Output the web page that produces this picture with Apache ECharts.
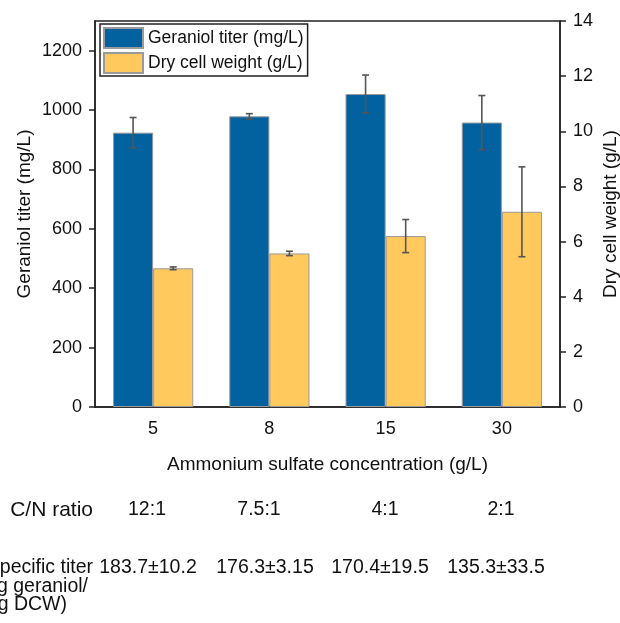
<!DOCTYPE html>
<html>
<head>
<meta charset="utf-8">
<script src="https://cdn.jsdelivr.net/npm/echarts@6/dist/echarts.min.js"></script>
<style>
  html, body { margin: 0; padding: 0; background: #fff; }
  #geraniol-chart { width: 620px; height: 623px; }
</style>
</head>
<body>
<div id="geraniol-chart"></div>
<script>
// ammonium sulfate concentration (g/L)
var concentrations = ["5", "8", "15", "30"];
var geraniolTiter = [924, 979, 1054, 958];
var geraniolErr = [51, 9, 64, 91];
var dryCellWeight = [5.03, 5.57, 6.2, 7.08];
var dryCellErr = [0.05, 0.08, 0.6, 1.63];
var leftTicks = [0, 200, 400, 600, 800, 1000, 1200];
var cnRatio = ["12:1", "7.5:1", "4:1", "2:1"];
var specificTiter = ["183.7±10.2", "176.3±3.15", "170.4±19.5", "135.3±33.5"];

var font = "Liberation Sans, Arial, sans-serif";
var blue = "#02619f";
var yellow = "#ffc95e";

function errData(vals, errs) {
  var out = [];
  for (var i = 0; i < vals.length; i++) {
    out.push([i, vals[i] - errs[i], vals[i] + errs[i]]);
  }
  return out;
}

// bars are 34.5% of the band each, gap 0 -> centre offset is +-17.25%
function errRender(side) {
  return function (params, api) {
    var x = api.value(0);
    var lo = api.coord([x, api.value(1)]);
    var hi = api.coord([x, api.value(2)]);
    var band = api.size([1, 0])[0];
    var cx = lo[0] + side * band * 0.1725;
    var cap = 3.5;
    var st = { stroke: "#555", lineWidth: 1.6 };
    return {
      type: "group",
      children: [
        { type: "line", shape: { x1: cx, y1: lo[1], x2: cx, y2: hi[1] }, style: st },
        { type: "line", shape: { x1: cx - cap, y1: lo[1], x2: cx + cap, y2: lo[1] }, style: st },
        { type: "line", shape: { x1: cx - cap, y1: hi[1], x2: cx + cap, y2: hi[1] }, style: st }
      ]
    };
  };
}

var cnX = [147, 259, 385, 501];
var stX = [148, 265, 380, 496];
var texts = [
  { type: "text", x: 93, y: 510, style: { text: "C/N ratio", font: "21px " + font, fill: "#111", textAlign: "right", textVerticalAlign: "middle" } }
];
for (var i = 0; i < cnRatio.length; i++) {
  texts.push({ type: "text", x: cnX[i], y: 510, style: { text: cnRatio[i], font: "19.5px " + font, fill: "#111", textAlign: "center", textVerticalAlign: "middle" } });
  texts.push({ type: "text", x: stX[i], y: 568, style: { text: specificTiter[i], font: "19.5px " + font, fill: "#111", textAlign: "center", textVerticalAlign: "middle" } });
}
texts.push({ type: "text", x: 93, y: 568, style: { text: "Specific titer", font: "19.5px " + font, fill: "#111", textAlign: "right", textVerticalAlign: "middle" } });
texts.push({ type: "text", x: 88, y: 587, style: { text: "(mg geraniol/", font: "19.5px " + font, fill: "#111", textAlign: "right", textVerticalAlign: "middle" } });
texts.push({ type: "text", x: 67, y: 605, style: { text: "mg DCW)", font: "19.5px " + font, fill: "#111", textAlign: "right", textVerticalAlign: "middle" } });

var option = {
  animation: false,
  backgroundColor: "#fff",
  textStyle: { fontFamily: font },
  grid: {
    left: 95,
    right: 60,
    top: 21,
    bottom: 216,
    outerBoundsMode: "none",
    show: true,
    borderColor: "#222",
    borderWidth: 1.5,
    backgroundColor: "transparent"
  },
  legend: {
    data: ["Geraniol titer (mg/L)", "Dry cell weight (g/L)"],
    orient: "vertical",
    left: 100,
    top: 24,
    padding: [3, 4, 2, 3],
    itemGap: 3,
    itemWidth: 39,
    itemHeight: 20,
    borderColor: "#222",
    borderWidth: 1.5,
    icon: "rect",
    textStyle: { fontSize: 17.5, color: "#111", fontFamily: font }
  },
  graphic: texts,
  xAxis: {
    type: "category",
    data: concentrations,
    name: "Ammonium sulfate concentration (g/L)",
    nameLocation: "middle",
    nameGap: 48,
    nameTextStyle: { fontSize: 19, color: "#111" },
    axisLine: { lineStyle: { color: "#222", width: 1.5 } },
    axisTick: { alignWithLabel: true, length: 6, lineStyle: { color: "#222", width: 1.5 } },
    axisLabel: { fontSize: 18, color: "#111", margin: 13 }
  },
  yAxis: [
    {
      type: "value",
      min: 0,
      max: 1300,
      interval: 200,
      name: "Geraniol titer (mg/L)",
      nameLocation: "middle",
      nameRotate: 90,
      nameGap: 61,
      nameMoveOverlap: false,
      nameTextStyle: { fontSize: 19, color: "#111" },
      axisLine: { show: true, lineStyle: { color: "#222", width: 1.5 } },
      axisTick: { show: true, length: 6, customValues: leftTicks, lineStyle: { color: "#222", width: 1.5 } },
      axisLabel: {
        fontSize: 18,
        color: "#111",
        margin: 13,
        customValues: leftTicks,
        formatter: function (v) { return String(v); }
      },
      splitLine: { show: false }
    },
    {
      type: "value",
      min: 0,
      max: 14,
      interval: 2,
      position: "right",
      name: "Dry cell weight (g/L)",
      nameLocation: "middle",
      nameRotate: 90,
      nameGap: 41,
      nameMoveOverlap: false,
      nameTextStyle: { fontSize: 19, color: "#111" },
      axisLine: { show: true, lineStyle: { color: "#222", width: 1.5 } },
      axisTick: { show: true, length: 6, lineStyle: { color: "#222", width: 1.5 } },
      axisLabel: { fontSize: 18, color: "#111", margin: 13 },
      splitLine: { show: false }
    }
  ],
  series: [
    {
      name: "Geraniol titer (mg/L)",
      type: "bar",
      data: geraniolTiter,
      barWidth: "34.5%",
      barGap: "0%",
      itemStyle: { color: blue, borderColor: "#9a9a9a", borderWidth: 1 }
    },
    {
      name: "Dry cell weight (g/L)",
      type: "bar",
      yAxisIndex: 1,
      data: dryCellWeight,
      barWidth: "34.5%",
      barGap: "0%",
      itemStyle: { color: yellow, borderColor: "#9a9a9a", borderWidth: 1 }
    },
    {
      name: "geraniolErr",
      type: "custom",
      data: errData(geraniolTiter, geraniolErr),
      renderItem: errRender(-1),
      z: 5
    },
    {
      name: "dcwErr",
      type: "custom",
      yAxisIndex: 1,
      data: errData(dryCellWeight, dryCellErr),
      renderItem: errRender(1),
      z: 5
    }
  ]
};

var chart = echarts.init(document.getElementById("geraniol-chart"));
chart.setOption(option);
window.addEventListener("resize", function () {
  chart.resize();
});
</script>
</body>
</html>
